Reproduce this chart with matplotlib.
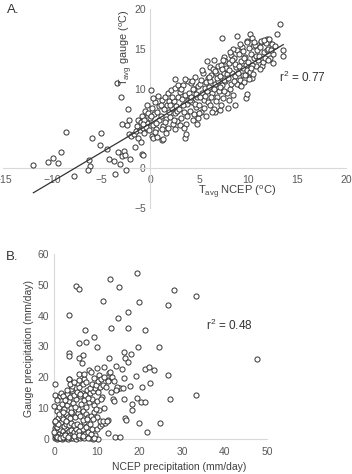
import numpy as np
import matplotlib
matplotlib.use("Agg")
import matplotlib.pyplot as plt

plt.rcParams["font.family"] = ["Liberation Sans", "DejaVu Sans"]
plt.rcParams["mathtext.fontset"] = "custom"
plt.rcParams["mathtext.rm"] = "Liberation Sans"
plt.rcParams["mathtext.it"] = "Liberation Sans:italic"
plt.rcParams["mathtext.bf"] = "Liberation Sans:bold"

# ---------------- Panel A data: T_avg NCEP vs T_avg gauge ----------------
a_outlier_x = [-11.9, -10.4, -9.9, -9.4, -9.1, -8.6, -7.8, -6.2, -6.1, -6.3, -5.9, -5.1, -5.0, -4.4, -4.2,
               -3.7, -3.6, -3.4, -3.0, -3.3, -3.1, -2.9, -2.7, -2.6, -2.4, -2.2, -2.1, -2.0, -2.9, -2.3,
               -2.1, -1.9, -1.6, -1.5, -1.3, -1.4, -1.2, -1.2, -1.0, -0.9, -0.8, -0.7, -0.7, -0.7, -0.6,
               -0.3, 0.1, 0.2, 0.3, 0.7, 1.2, 1.3, 3.6, 3.7, 2.6, 4.8, 6.6, 7.1, 8.0, 8.7, 8.1, 9.2, 9.8,
               9.9, 9.5, 10.0, 10.2, 10.4, 13.3, 13.0, 13.6, 13.6, 10.2, 7.3, 8.9, 11.9, 12.1, 11.3, 10.5,
               9.9, 5.8, 6.5, 6.1]
a_outlier_y = [0.46, 0.8, 1.3, 0.7, 2.0, 4.5, -1.0, 1.0, 0.3, -0.2, 3.8, 2.9, 4.4, 2.4, 1.2,
               0.9, -0.7, 10.7, 9.0, 2.0, 0.5, 1.5, 2.2, 1.7, -0.2, 7.4, 6.0, 1.1, 5.6, 5.4,
               4.3, 4.1, 4.3, 2.7, 5.3, 4.7, 6.0, 3.8, 4.8, 3.3, 1.8, 1.7, 6.4, 5.1, 4.4,
               5.7, 9.8, 4.1, 3.8, 3.9, 3.5, 3.7, 3.8, 4.3, 11.2, 5.5, 7.0, 7.3, 7.6, 8.0, 8.6, 10.4, 8.8,
               9.3, 11.7, 11.8, 11.5, 11.3, 18.1, 16.9, 14.9, 14.1, 16.9, 16.4, 16.6, 16.2, 15.9, 15.9, 15.3,
               16.0, 13.5, 13.6, 12.7]
a_band_x = [-0.9, -0.8, -0.5, -0.4, -0.2, -0.1, -0.6, -0.3, -0.7, 0.0,
            0.2, 0.3, 0.4, 0.5, 0.6, 0.7, 0.8, 0.9, 0.3, 0.6, 0.9, 0.1, 0.5,
            1.1, 1.2, 1.3, 1.4, 1.5, 1.6, 1.7, 1.8, 1.9, 1.2, 1.5, 1.8, 1.1, 1.6, 1.9,
            2.0, 2.1, 2.2, 2.3, 2.4, 2.5, 2.6, 2.7, 2.8, 2.9, 2.2, 2.5, 2.8, 2.4, 2.9, 2.0,
            3.0, 3.1, 3.2, 3.3, 3.4, 3.5, 3.6, 3.7, 3.8, 3.9, 3.1, 3.4, 3.6, 3.8, 3.2, 3.9, 3.5,
            4.0, 4.1, 4.2, 4.3, 4.4, 4.5, 4.6, 4.7, 4.8, 4.9, 4.1, 4.3, 4.5, 4.7, 4.9, 4.2, 4.6, 4.4,
            5.0, 5.1, 5.2, 5.3, 5.4, 5.5, 5.6, 5.7, 5.8, 5.9, 5.1, 5.3, 5.5, 5.7, 5.9, 5.2, 5.6, 5.0,
            6.0, 6.1, 6.2, 6.3, 6.4, 6.5, 6.6, 6.7, 6.8, 6.9, 6.1, 6.3, 6.5, 6.7, 6.9, 6.2, 6.6, 6.0, 6.8,
            7.0, 7.1, 7.2, 7.3, 7.4, 7.5, 7.6, 7.7, 7.8, 7.9, 7.1, 7.3, 7.5, 7.7, 7.9, 7.2, 7.6, 7.4,
            8.0, 8.1, 8.2, 8.3, 8.4, 8.5, 8.6, 8.7, 8.8, 8.9, 8.1, 8.3, 8.5, 8.7, 8.9, 8.2, 8.6, 8.4,
            9.0, 9.1, 9.2, 9.3, 9.4, 9.5, 9.6, 9.7, 9.8, 9.9, 9.1, 9.3, 9.5, 9.7, 9.9, 9.2, 9.6,
            10.0, 10.1, 10.2, 10.3, 10.4, 10.5, 10.6, 10.7, 10.8, 10.9, 10.1, 10.4, 10.6, 10.8, 10.3,
            11.0, 11.2, 11.4, 11.6, 11.8, 11.1, 11.3, 11.5, 11.7, 11.9, 11.2, 11.6,
            12.0, 12.2, 12.4, 12.6, 12.1, 12.3, 12.5, 12.8, 12.0]
a_band_y = [5.8, 6.5, 7.2, 5.2, 6.9, 4.8, 6.1, 7.9, 5.5, 6.3,
            7.6, 5.4, 6.8, 8.3, 4.9, 7.1, 9.1, 6.0, 8.8, 5.7, 7.8, 6.5, 4.6,
            6.6, 8.6, 5.3, 7.4, 9.0, 6.2, 8.0, 5.1, 7.0, 4.9, 5.8, 9.4, 7.9, 4.4, 8.5,
            6.4, 9.8, 7.5, 5.6, 8.4, 6.9, 10.1, 7.8, 5.9, 9.0, 8.9, 4.9, 7.2, 6.0, 10.5, 8.0,
            7.4, 9.6, 6.3, 8.7, 10.4, 7.0, 9.2, 5.6, 8.1, 10.9, 5.4, 7.9, 11.2, 6.6, 10.0, 8.6, 5.1,
            9.5, 7.2, 10.7, 8.3, 6.1, 9.9, 11.5, 7.7, 8.9, 10.3, 8.6, 11.0, 6.8, 9.3, 6.3, 9.0, 8.1, 10.0,
            8.0, 10.6, 7.0, 9.4, 11.9, 8.6, 10.1, 6.6, 9.7, 11.3, 9.0, 12.3, 7.5, 10.8, 8.3, 11.1, 9.1, 6.9,
            10.2, 8.0, 11.7, 9.5, 12.4, 7.4, 10.6, 11.9, 9.0, 12.8, 11.0, 7.1, 10.0, 8.4, 10.9, 9.0, 12.2, 11.5, 11.3,
            9.7, 11.6, 13.0, 10.4, 8.8, 12.0, 14.0, 10.9, 12.6, 9.4, 10.2, 12.4, 11.1, 13.5, 11.8, 8.0, 9.7, 13.6,
            11.3, 13.2, 10.0, 14.2, 12.0, 9.2, 13.9, 11.6, 12.7, 14.8, 12.3, 10.6, 15.0, 13.1, 10.6, 14.6, 11.0, 13.6,
            12.0, 14.3, 11.1, 13.5, 15.2, 12.6, 10.8, 14.0, 13.0, 15.8, 12.9, 10.3, 14.7, 11.7, 12.3, 15.6, 13.8,
            13.3, 15.1, 12.1, 14.4, 16.3, 11.8, 13.9, 15.5, 12.8, 14.9, 11.2, 13.0, 15.9, 14.1, 12.6,
            13.6, 15.2, 12.9, 14.6, 15.7, 14.1, 16.0, 13.4, 13.9, 14.8, 12.4, 16.1,
            15.0, 13.8, 15.6, 14.4, 16.2, 14.9, 13.2, 15.3, 13.6]
a_fit_slope = 0.73
a_fit_intercept = 5.6
a_fit_xrange = [-11.9, 13.6]
a_xticks = [-15, -10, -5, 0, 5, 10, 15, 20]
a_yticks = [-5, 0, 5, 10, 15, 20]
a_r2 = "r$^2$ = 0.77"

# ---------------- Panel B data: NCEP vs gauge precipitation ----------------
b_x = [19.4, 13.1, 5.1, 5.7, 15.1, 28.2, 33.2, 11.4, 19.9, 26.8, 3.5, 17.4, 15.0, 7.1, 13.4, 17.3, 21.3,
       9.2, 5.8, 7.3, 10.0, 19.7, 24.6, 3.5, 3.5, 6.8, 5.7, 6.4, 12.8, 16.4, 16.6, 18.0, 17.3, 47.6,
       14.5, 11.6, 10.1, 15.9, 21.2, 22.3, 23.5, 5.8, 8.1, 10.5, 12.9, 19.2, 26.7, 0.2, 3.3, 7.0, 12.7,
       16.3, 22.5, 20.6, 17.8, 14.8, 15.5, 16.1, 33.3, 27.2, 19.3, 20.3, 21.3, 18.2, 18.3, 16.3, 13.8,
       13.9, 11.1, 11.7, 16.7, 16.9, 19.8, 24.9, 21.7, 14.2, 15.5, 12.5, 10.2, 0.2,
       0.1, 0.3, 0.5, 0.8, 1.0, 1.2, 1.5, 1.7, 2.0, 2.3, 2.6, 2.9, 3.2, 3.5, 3.8, 4.1, 4.4, 4.8, 5.1,
       5.5, 6.0, 6.5, 7.0, 7.6, 8.3, 9.0, 9.5,
       0.2, 0.4, 0.6, 0.9, 1.1, 1.4, 1.8, 2.1, 2.4, 2.7, 3.0, 3.3, 3.7, 4.0, 4.3, 4.6, 5.0, 5.4, 5.8,
       6.2, 6.7, 7.2, 7.8, 8.5, 0.1, 0.3, 0.7, 0.5, 1.3, 1.6, 2.2, 2.8, 3.4, 3.9, 4.5, 5.2, 6.0, 6.9,
       7.5, 8.8, 10.0, 10.6, 11.2, 12.0, 12.5, 0.4, 0.9, 1.5, 2.0, 2.6, 3.1, 3.6, 4.2, 4.8, 5.5, 6.1,
       6.6, 7.3, 8.0, 8.7, 9.4, 10.1, 10.8, 11.5, 12.4, 0.6, 1.1, 1.7, 2.3, 2.9, 3.3, 3.8, 4.4, 5.0,
       5.6, 6.3, 6.9, 7.5, 8.1, 8.8, 9.3, 9.9, 10.4, 11.0, 1.3, 1.9, 2.5, 3.0, 3.6, 4.1, 4.7, 5.3,
       5.9, 6.5, 7.1, 7.7, 8.4, 9.0, 9.6, 10.2, 10.7, 1.6, 2.1, 4.0, 5.8, 6.7, 7.3, 8.3, 8.9, 9.7,
       10.3, 10.9, 11.7, 12.6, 13.1, 13.5, 14.1, 14.6, 5.2, 5.8, 4.1, 3.3, 6.9, 8.5, 9.2, 11.4, 12.2,
       13.3, 14.5, 0.5, 1.0, 2.6, 3.9, 4.9, 6.6, 7.6, 8.4, 9.1, 9.8, 0.2, 0.8, 1.9, 2.4, 3.0, 3.7,
       4.5, 6.1, 7.9, 0.0, 0.3, 0.6, 1.3, 1.9, 2.5, 3.1, 4.6, 5.7, 6.8, 8.0, 9.3, 0.0, 0.2]
b_y = [54.0, 51.9, 49.6, 48.5, 49.4, 48.2, 46.4, 44.9, 44.4, 43.5, 40.2, 41.3, 39.2, 35.3, 36.0, 36.0, 35.3,
       33.1, 31.1, 31.5, 30.0, 29.7, 29.7, 28.0, 26.9, 27.3, 26.3, 24.8, 26.2, 28.3, 26.2, 27.7, 25.0, 25.9,
       23.8, 23.3, 23.1, 22.7, 22.7, 23.2, 22.5, 21.2, 22.4, 20.7, 21.4, 20.4, 20.6, 17.7, 19.6, 19.6, 19.1,
       19.8, 18.3, 17.0, 17.2, 16.1, 16.4, 16.6, 14.3, 12.9, 13.3, 12.0, 12.0, 11.3, 9.5, 12.9, 13.0,
       12.4, 13.5, 10.1, 6.7, 6.1, 5.3, 5.3, 2.4, 0.5, 0.8, 1.8, 0.0, 14.2,
       0.2, 0.5, 0.1, 0.3, 0.8, 0.2, 0.6, 0.1, 0.4, 0.9, 0.2, 0.5, 0.1, 0.7, 0.3, 0.9, 0.2, 0.5, 0.1,
       0.8, 0.3, 0.6, 0.2, 0.9, 0.4, 0.1, 1.2,
       1.4, 2.1, 1.1, 2.8, 1.7, 3.2, 1.3, 2.5, 1.6, 3.6, 1.9, 2.7, 1.2, 3.0, 1.5, 2.4, 3.4, 1.8, 2.6,
       1.4, 3.1, 1.7, 2.3, 1.5, 3.5, 4.3, 5.6, 3.9, 4.7, 5.4, 4.1, 4.9, 4.4, 5.2, 4.6, 5.0, 4.2, 5.5,
       4.0, 3.4, 3.2, 4.2, 4.8, 5.3, 6.1, 6.2, 6.8, 7.6, 6.5, 8.0, 7.2, 6.7, 8.4, 7.1, 8.5, 7.4,
       9.0, 8.1, 7.0, 7.6, 8.8, 7.2, 6.0, 5.8, 6.0, 9.2, 10.3, 11.5, 9.7, 11.0, 12.4, 10.1, 11.7, 12.9,
       9.6, 11.2, 12.6, 10.4, 11.9, 13.1, 10.9, 12.2, 9.5, 13.0, 13.8, 14.3, 13.3, 14.5, 13.6, 15.6, 14.2, 15.4,
       13.9, 15.0, 14.4, 15.8, 14.9, 15.7, 16.5, 15.2, 16.9, 15.0, 14.1, 16.2, 16.8, 17.8, 18.4, 16.4, 18.0, 17.4,
       18.8, 19.3, 20.2, 18.9, 21.8, 20.1, 18.8, 16.8, 18.2, 19.0, 17.1, 19.4, 21.0, 21.7, 19.7, 17.6, 17.0,
       15.4, 16.0, 12.8, 8.1, 5.8, 8.9, 10.5, 6.1, 6.5, 5.0, 6.4, 9.6, 5.5, 4.8, 8.8, 12.6, 16.0, 17.9,
       18.6, 14.7, 13.2, 10.8, 1.0, 0.6, 0.4, 0.8, 1.2, 0.6, 1.0, 1.3, 0.9, 0.2, 0.4, 2.4, 6.0]
b_xticks = [0, 10, 20, 30, 40, 50]
b_yticks = [0, 10, 20, 30, 40, 50, 60]
b_r2 = "r$^2$ = 0.48"

TICK_C = "#595959"
LAB_C = "#404040"
AX_C = "#d9d9d9"
MK = dict(marker="o", linestyle="none", markersize=3.7, markerfacecolor="white",
          markeredgecolor="#333333", markeredgewidth=0.7)

fig = plt.figure(figsize=(3.52, 4.74), dpi=100)

# ---------------- Panel A ----------------
axA = fig.add_axes([3 / 352, 266 / 474, 343 / 352, 199 / 474])
axA.set_xlim(-15, 20)
axA.set_ylim(-5, 20)
for s in ["top", "right"]:
    axA.spines[s].set_visible(False)
axA.spines["left"].set_position(("data", 0))
axA.spines["bottom"].set_position(("data", 0))
for s in ["left", "bottom"]:
    axA.spines[s].set_color(AX_C)
    axA.spines[s].set_linewidth(0.8)
axA.set_xticks(a_xticks)
axA.set_yticks(a_yticks)
axA.tick_params(length=0, labelsize=7.5, colors=TICK_C)
axA.tick_params(axis="x", pad=5)
axA.tick_params(axis="y", pad=3)
axA.plot(a_outlier_x + a_band_x, a_outlier_y + a_band_y, **MK, zorder=3)
fx = np.array(a_fit_xrange)
axA.plot(fx, a_fit_slope * fx + a_fit_intercept, color="#333333", lw=0.9, zorder=4)
axA.text(-2.5, 15.2, r"T$_{\rm avg}$ gauge ($^{\rm o}$C)", rotation=90, ha="center", va="center",
         fontsize=7.8, color=LAB_C)
axA.text(8.9, -3.0, r"T$_{\rm avg}$ NCEP ($^{\rm o}$C)", ha="center", va="center",
         fontsize=8, color=LAB_C)
axA.text(15.5, 11.4, a_r2, ha="center", va="center", fontsize=8.5, color="#333333")
fig.text(13 / 352, 1 - 10 / 474, "A.", ha="center", va="center", fontsize=9.5, color="#333333")

# ---------------- Panel B ----------------
axB = fig.add_axes([54.5 / 352, 35 / 474, 212.5 / 352, 185 / 474])
axB.set_xlim(0, 50)
axB.set_ylim(0, 60)
for s in ["top", "right"]:
    axB.spines[s].set_visible(False)
for s in ["left", "bottom"]:
    axB.spines[s].set_color(AX_C)
    axB.spines[s].set_linewidth(0.8)
axB.set_xticks(b_xticks)
axB.set_yticks(b_yticks)
axB.tick_params(length=0, labelsize=7.5, colors=TICK_C)
axB.tick_params(axis="x", pad=6)
axB.tick_params(axis="y", pad=4)
axB.plot(b_x, b_y, **MK, clip_on=False, zorder=3)
axB.text(-0.12, 0.49, "Gauge precipitation (mm/day)", rotation=90, ha="center", va="center",
         transform=axB.transAxes, fontsize=7.5, color=LAB_C)
axB.text(0.586, -0.151, "NCEP precipitation (mm/day)", ha="center", va="center",
         transform=axB.transAxes, fontsize=7.5, color=LAB_C)
axB.text(41.2, 36.9, b_r2, ha="center", va="center", fontsize=8.5, color="#333333")
fig.text(12 / 352, 1 - 257 / 474, "B.", ha="center", va="center", fontsize=9.5, color="#333333")

fig.savefig("out.png", dpi=100)
